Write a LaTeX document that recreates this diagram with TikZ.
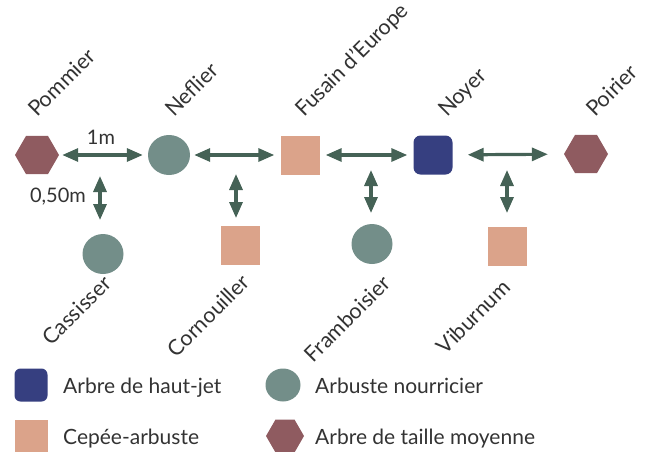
\documentclass[tikz,border=0pt]{standalone}
\usepackage{fontspec}
\setmainfont{Lato}
\usetikzlibrary{arrows.meta,shapes.geometric}
\definecolor{hexc}{HTML}{8F5B60}
\definecolor{circc}{HTML}{738E89}
\definecolor{sqc}{HTML}{DBA38A}
\definecolor{noyc}{HTML}{363F80}
\definecolor{arrc}{HTML}{456256}
\definecolor{txtc}{HTML}{333333}
\tikzset{
  hexa/.style={regular polygon, regular polygon sides=6, fill=hexc, minimum size=44pt, inner sep=0pt},
  circ/.style={ellipse, fill=circc, minimum width=42pt, minimum height=40pt, inner sep=0pt},
  sqr/.style={rectangle, fill=sqc, minimum size=39pt, inner sep=0pt},
  noy/.style={rectangle, rounded corners=7pt, fill=noyc, minimum size=39pt, inner sep=0pt},
  dblarrow/.style={draw=arrc, line width=3.2pt, {Triangle[length=16pt,width=13pt]}-{Triangle[length=16pt,width=13pt]}},
  lbl/.style={text=txtc, font=\fontsize{20}{22}\selectfont, inner sep=0pt},
  rotlbl/.style={lbl, font=\fontsize{21.5}{23}\selectfont, rotate=45},
  toplbl/.style={rotlbl, anchor=base west},
  botlbl/.style={rotlbl, anchor=base east},
  legtxt/.style={lbl, font=\fontsize{21}{23}\selectfont, anchor=base west},
}
\begin{document}
\begin{tikzpicture}[x=1pt,y=-1pt]
\useasboundingbox (0,0) rectangle (645,451);
% top row
\node[hexa] (pom) at (37,155) {};
\node[circ] (nef) at (169,155) {};
\node[sqr] (fus) at (300,155) {};
\node[noy] (noy) at (433,155) {};
\node[hexa] (poi) at (586,154) {};
% bottom row
\node[circ, minimum width=41pt] (cas) at (103,254) {};
\node[sqr] (cor) at (240,245) {};
\node[circ, minimum width=41pt] (fra) at (372,244) {};
\node[sqr] (vib) at (507,246) {};
% horizontal arrows
\draw[dblarrow, shorten <=3pt, shorten >=5pt] (pom) -- (nef);
\draw[dblarrow, shorten <=4pt, shorten >=6pt] (nef) -- (fus);
\draw[dblarrow, shorten <=6pt, shorten >=6pt] (fus) -- (noy);
\draw[dblarrow, shorten <=15pt, shorten >=16pt] (noy) -- (poi);
% vertical arrows
\coordinate (v1a) at (100,176); \coordinate (v1b) at (100,220);
\coordinate (v2a) at (236,174); \coordinate (v2b) at (236,218);
\coordinate (v3a) at (371,170); \coordinate (v3b) at (371,213);
\coordinate (v4a) at (507,170); \coordinate (v4b) at (507,213);
\draw[dblarrow] (v1a) -- (v1b);
\draw[dblarrow] (v2a) -- (v2b);
\draw[dblarrow] (v3a) -- (v3b);
\draw[dblarrow] (v4a) -- (v4b);
% distance labels
\node[lbl] (d1) at (101,137) {1m};
\node[lbl] (d2) at (58,197) {0,50m};
% top labels
\node[toplbl] (tpom) at (37,118) {Pommier};
\node[toplbl] (tnef) at (174,118) {Neflier};
\node[toplbl] (tfus) at (304,118) {Fusain d'Europe};
\node[toplbl] (tnoy) at (447,118) {Noyer};
\node[toplbl] (tpoi) at (595,118) {Poirier};
% bottom labels
\node[botlbl] (tcas) at (113,285) {Cassisser};
\node[botlbl] (tcor) at (251,284) {Cornouiller};
\node[botlbl] (tfra) at (392,285) {Framboisier};
\node[botlbl] (tvib) at (512,289) {Viburnum};
% legend
\node[noy, minimum size=33pt, rounded corners=6pt] (l1) at (31,385) {};
\node[legtxt] (l1t) at (63,393) {Arbre de haut-jet};
\node[sqr, minimum size=33pt] (l2) at (31,436) {};
\node[legtxt] (l2t) at (63,444) {Cepée-arbuste};
\node[circ, minimum width=35pt, minimum height=33pt] (l3) at (283,385) {};
\node[legtxt] (l3t) at (315,393) {Arbuste nourricier};
\node[hexa, minimum size=38pt] (l4) at (285,436) {};
\node[legtxt] (l4t) at (315,444) {Arbre de taille moyenne};
\end{tikzpicture}
\end{document}
